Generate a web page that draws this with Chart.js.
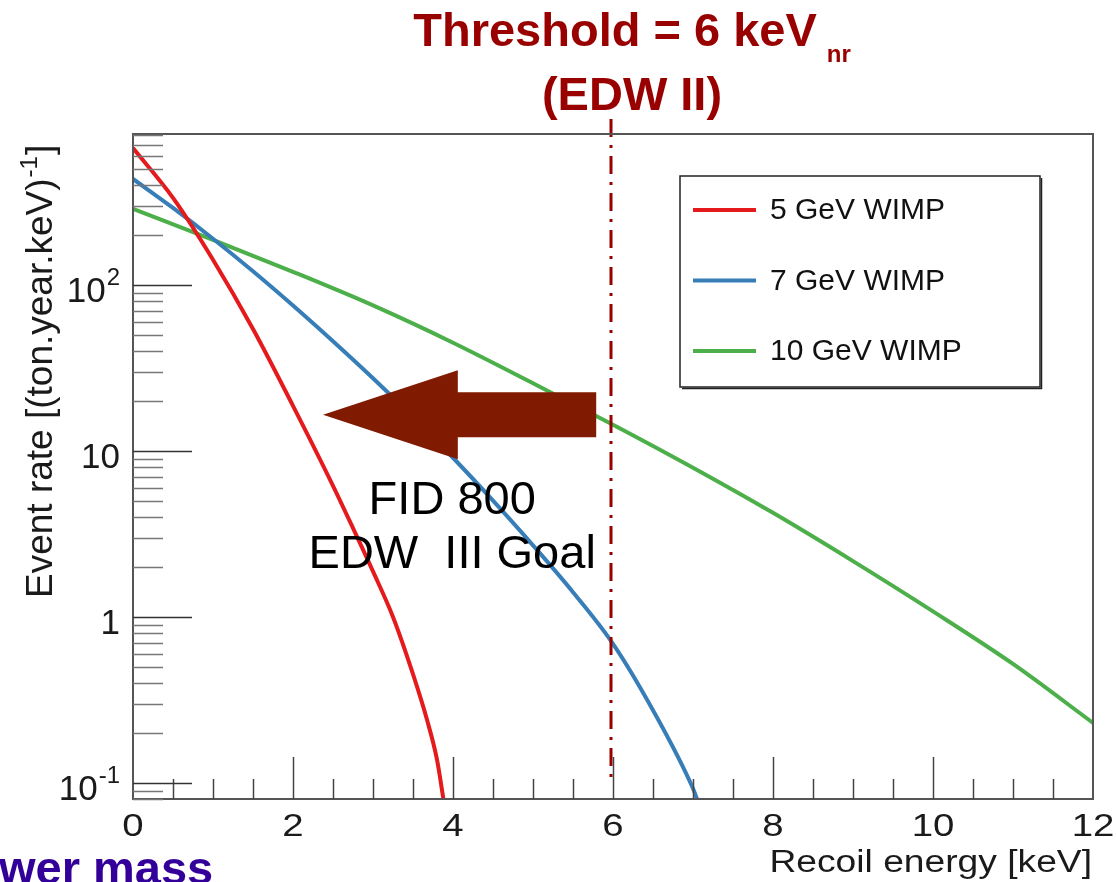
<!DOCTYPE html>
<html lang="en">
<head>
<meta charset="UTF-8">
<title>WIMP recoil spectra</title>
<script src="https://cdn.jsdelivr.net/npm/chart.js"></script>
<style>
    body { margin: 0; background: #fff; }
    #wrap { width: 1116px; height: 882px; }
</style>
</head>
<body>
<div id="wrap"><canvas id="rateChart" width="1116" height="882"></canvas></div>
<script>
// Recoil energy (keV) and event rate ((ton.year.keV)^-1) for each WIMP mass
const energy5 = [0, 0.5, 1, 1.5, 2, 2.5, 2.75, 3, 3.25, 3.5, 3.675, 3.8, 3.88];
const rate5 = [668, 335, 142, 54.3, 18.7, 6.17, 3.43, 1.88, 1.0, 0.452, 0.240, 0.138, 0.080];

const energy7 = [0, 0.5, 1, 1.5, 2, 2.5, 3, 3.5, 4, 4.5, 5, 5.5, 6, 6.5, 7, 7.05];
const rate7 = [435, 291, 190, 121, 75.2, 45.8, 27.4, 16.0, 9.10, 5.02, 2.70, 1.41, 0.689, 0.274, 0.0925, 0.080];

const energy10 = [0, 1, 2, 3, 4, 5, 6, 7, 8, 9, 10, 11, 12];
const rate10 = [287, 187, 120, 75.3, 44.9, 25.6, 14.4, 7.93, 4.24, 2.17, 1.08, 0.521, 0.230];

const seriesLabels = ['5 GeV WIMP', '7 GeV WIMP', '10 GeV WIMP'];
const seriesColors = ['#e41a1c', '#377eb8', '#4daf4a'];
const energies = [energy5, energy7, energy10];
const rates = [rate5, rate7, rate10];

// axis ticks
const xLabelTicks = [0, 2, 4, 6, 8, 10, 12];
const yLabelTicks = [0.1, 1, 10, 100];
const yLabelBase = ['10', '1', '10', '10'];
const yLabelExp = ['-1', '', '', '2'];

// annotations
const thresholdKeV = 6;
const goalLines = ['FID 800', 'EDW  III Goal'];
const goalPos = [[3.99, 4.17], [3.99, 1.97]];
const arrowTip = [2.375, 16.5];
const arrowHeadBase = 4.06;
const arrowTail = 5.79;

const FONT = '"Liberation Sans", Arial, sans-serif';

function stretchText(ctx, text, x, y, sx, align) {
    ctx.save();
    ctx.translate(x, y);
    ctx.scale(sx, 1);
    ctx.textAlign = align;
    ctx.fillText(text, 0, 0);
    ctx.restore();
}

const rootStylePlugin = {
    id: 'rootStyle',
    afterDraw(chart) {
        const ctx = chart.ctx;
        const area = chart.chartArea;
        const xs = chart.scales.x;
        const ys = chart.scales.y;
        ctx.save();

        // threshold line (dash-dot)
        ctx.strokeStyle = '#990000';
        ctx.lineWidth = 3;
        ctx.setLineDash([18, 8, 3, 8]);
        ctx.beginPath();
        ctx.moveTo(xs.getPixelForValue(thresholdKeV) - 2, ys.getPixelForValue(1000));
        ctx.lineTo(xs.getPixelForValue(thresholdKeV) - 2, ys.getPixelForValue(0.107));
        ctx.stroke();
        ctx.setLineDash([]);

        // big arrow pointing to lower threshold
        const tx = xs.getPixelForValue(arrowTip[0]);
        const ty = ys.getPixelForValue(arrowTip[1]);
        const hx = xs.getPixelForValue(arrowHeadBase);
        const ex = xs.getPixelForValue(arrowTail);
        ctx.fillStyle = '#801a00';
        ctx.beginPath();
        ctx.moveTo(tx, ty);
        ctx.lineTo(hx, ty - 44.5);
        ctx.lineTo(hx, ty - 22.5);
        ctx.lineTo(ex, ty - 22.5);
        ctx.lineTo(ex, ty + 22.5);
        ctx.lineTo(hx, ty + 22.5);
        ctx.lineTo(hx, ty + 44.5);
        ctx.closePath();
        ctx.fill();

        // goal text
        ctx.fillStyle = '#000';
        ctx.font = '47px ' + FONT;
        ctx.textAlign = 'center';
        ctx.textBaseline = 'alphabetic';
        goalLines.forEach((t, i) => {
            ctx.fillText(t, xs.getPixelForValue(goalPos[i][0]), ys.getPixelForValue(goalPos[i][1]));
        });

        // frame
        ctx.strokeStyle = '#555';
        ctx.lineWidth = 2;
        ctx.strokeRect(area.left, area.top, area.right - area.left, area.bottom - area.top);

        // x ticks (inside)
        ctx.strokeStyle = '#444';
        ctx.lineWidth = 1.5;
        for (let v = 0.5; v < 12; v += 0.5) {
            const px = Math.round(xs.getPixelForValue(v)) + 0.5;
            const len = v % 2 === 0 ? 42 : 20;
            ctx.beginPath();
            ctx.moveTo(px, area.bottom);
            ctx.lineTo(px, area.bottom - len);
            ctx.stroke();
        }
        // y ticks (log)
        for (let e = -2; e <= 3; e++) {
            for (let m = 1; m <= 9; m++) {
                const v = m * Math.pow(10, e);
                if (v < ys.min || v > ys.max) continue;
                const py = Math.round(ys.getPixelForValue(v)) + 0.5;
                const len = m === 1 ? 59 : 30;
                ctx.strokeStyle = m === 1 ? '#333' : '#777';
                ctx.beginPath();
                ctx.moveTo(area.left, py);
                ctx.lineTo(area.left + len, py);
                ctx.stroke();
            }
        }

        // x tick labels
        ctx.fillStyle = '#1a1a1a';
        ctx.font = '32px ' + FONT;
        xLabelTicks.forEach(v => {
            stretchText(ctx, String(v), xs.getPixelForValue(v), area.bottom + 37, 1.2, 'center');
        });

        // y tick labels with exponents
        ctx.textAlign = 'left';
        yLabelTicks.forEach((v, i) => {
            const py = ys.getPixelForValue(v) + 17;
            ctx.font = '35px ' + FONT;
            const wb = ctx.measureText(yLabelBase[i]).width;
            ctx.font = '24px ' + FONT;
            const we = yLabelExp[i] ? ctx.measureText(yLabelExp[i]).width + 1 : 0;
            const x0 = area.left - 13 - wb - we;
            ctx.font = '35px ' + FONT;
            ctx.fillText(yLabelBase[i], x0, py);
            if (yLabelExp[i]) {
                ctx.font = '24px ' + FONT;
                ctx.fillText(yLabelExp[i], x0 + wb + 1, py - 17);
            }
        });

        // x axis title
        ctx.font = '31px ' + FONT;
        stretchText(ctx, 'Recoil energy [keV]', area.right - 1, 872, 1.2, 'right');

        // y axis title
        ctx.save();
        ctx.translate(52, 598);
        ctx.rotate(-Math.PI / 2);
        ctx.textAlign = 'left';
        ctx.font = '37px ' + FONT;
        const t1 = 'Event rate [(ton.year.keV)';
        ctx.fillText(t1, 0, 0);
        let w = ctx.measureText(t1).width;
        ctx.font = '24px ' + FONT;
        ctx.fillText('-1', w + 1, -15);
        w += ctx.measureText('-1').width + 2;
        ctx.font = '37px ' + FONT;
        ctx.fillText(']', w, 0);
        ctx.restore();

        // legend
        const lx = area.right - 413;
        const ly = area.top + 42;
        const lw = 360;
        const lh = 211;
        ctx.fillStyle = '#fff';
        ctx.fillRect(lx, ly, lw, lh);
        ctx.strokeStyle = '#222';
        ctx.lineWidth = 1.5;
        ctx.strokeRect(lx, ly, lw, lh);
        ctx.beginPath();
        ctx.moveTo(lx + lw + 1.5, ly + 2);
        ctx.lineTo(lx + lw + 1.5, ly + lh + 1.5);
        ctx.lineTo(lx + 2, ly + lh + 1.5);
        ctx.stroke();
        ctx.font = '30px ' + FONT;
        ctx.textBaseline = 'middle';
        ctx.textAlign = 'left';
        chart.data.datasets.forEach((ds, i) => {
            const yy = ly + 34 + i * 70.5;
            ctx.strokeStyle = ds.borderColor;
            ctx.lineWidth = 4;
            ctx.beginPath();
            ctx.moveTo(lx + 13, yy);
            ctx.lineTo(lx + 76, yy);
            ctx.stroke();
            ctx.fillStyle = '#111';
            ctx.fillText(ds.label, lx + 90, yy + 1);
        });

        // threshold title
        ctx.textBaseline = 'alphabetic';
        ctx.fillStyle = '#990000';
        ctx.font = 'bold 47px ' + FONT;
        const main = 'Threshold = 6 keV';
        const wm = ctx.measureText(main).width;
        ctx.font = 'bold 24px ' + FONT;
        const ws = ctx.measureText('nr').width;
        const cx = 632;
        const sx0 = cx - (wm + 10 + ws) / 2;
        ctx.font = 'bold 47px ' + FONT;
        ctx.textAlign = 'left';
        ctx.fillText(main, sx0, 46);
        ctx.font = 'bold 24px ' + FONT;
        ctx.fillText('nr', sx0 + wm + 10, 62);
        ctx.font = 'bold 47px ' + FONT;
        ctx.textAlign = 'center';
        ctx.fillText('(EDW II)', cx, 110);

        // caption running off the bottom edge
        ctx.fillStyle = '#330099';
        ctx.textAlign = 'left';
        ctx.fillText('wer mass', -1, 884);

        ctx.restore();
    }
};

new Chart(document.getElementById('rateChart'), {
    type: 'line',
    data: {
        datasets: seriesLabels.map((label, i) => ({
            label: label,
            data: energies[i].map((e, j) => ({ x: e, y: rates[i][j] })),
            borderColor: seriesColors[i],
            backgroundColor: seriesColors[i],
            borderWidth: 4,
            pointRadius: 0,
            cubicInterpolationMode: 'monotone',
            fill: false,
            clip: 0
        }))
    },
    options: {
        responsive: false,
        animation: false,
        events: [],
        layout: { padding: { left: 133, top: 134, right: 23, bottom: 83 } },
        plugins: {
            legend: { display: false },
            tooltip: { enabled: false }
        },
        scales: {
            x: { type: 'linear', min: 0, max: 12, display: false },
            y: { type: 'logarithmic', min: 0.08, max: 812, display: false }
        }
    },
    plugins: [rootStylePlugin]
});
</script>
</body>
</html>
